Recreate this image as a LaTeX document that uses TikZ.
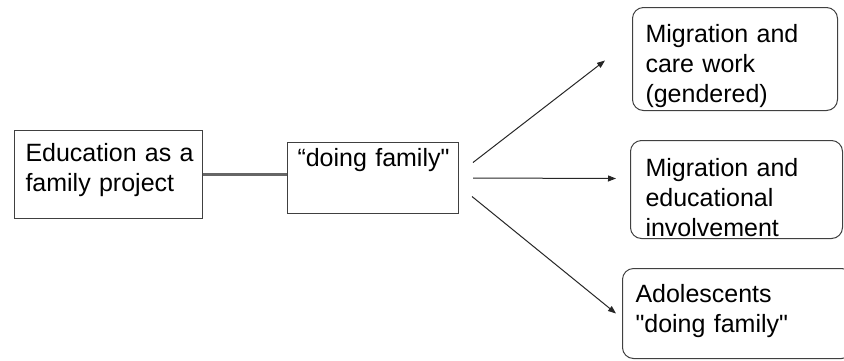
\documentclass[tikz,border=0pt]{standalone}
\usepackage{fontspec}
\setmainfont{Liberation Sans}
\usetikzlibrary{arrows.meta}
\tikzset{box/.style={draw=black!75, line width=1pt, anchor=north west, align=left,
                     inner ysep=0pt, font=\fontsize{25}{30}\selectfont},
         rbox/.style={box, rounded corners=11pt},
         link/.style={draw=black!60, line width=2.5pt},
         arr/.style={draw=black!85, line width=1pt, -{Triangle[length=8pt,width=6pt]}}}

\begin{document}
\begin{tikzpicture}[x=1pt, y=-1pt]

             \useasboundingbox (0,0) rectangle (844,360);
             \clip (0,0) rectangle (844,360);

             \node (edu) [box, inner xsep=11pt, text width=166pt, text height=31pt, text depth=57pt]
                  at (14,130) {\mbox{Education as a}\\\mbox{family project}};
             \node (doing) [box, inner xsep=10pt, text width=151pt, text height=24pt, text depth=47pt]
                  at (287,142) {\mbox{``doing family\textquotedbl}};

             \node (care) [rbox, inner xsep=13pt, text width=179pt, text height=35pt, text depth=68pt]
                  at (632,7) {\mbox{Migration and}\\\mbox{care work}\\\mbox{(gendered)}};
             \node (school) [rbox, inner xsep=15pt, text width=182pt, text height=36pt, text depth=62pt]
                  at (630,140) {\mbox{Migration and}\\\mbox{educational}\\\mbox{involvement}};
             \node (teens) [rbox, inner xsep=13pt, text width=204pt, text height=34pt, text depth=56pt]
                  at (622,268) {\mbox{Adolescents}\\\mbox{\textquotedbl doing family\textquotedbl}};

             \draw [link] (edu.east) -- (edu.east -| doing.west);

             \draw [arr] ([xshift=14pt,yshift=15.5pt]doing.east) -- ([xshift=-27pt,yshift=-1.5pt]care.west);
             \draw [arr] ([xshift=14pt]doing.east) -- ([xshift=-14pt,yshift=11pt]school.west);
             \draw [arr] ([xshift=13pt,yshift=-18.5pt]doing.east) -- ([xshift=-6pt]teens.west);

\end{tikzpicture}
\end{document}
